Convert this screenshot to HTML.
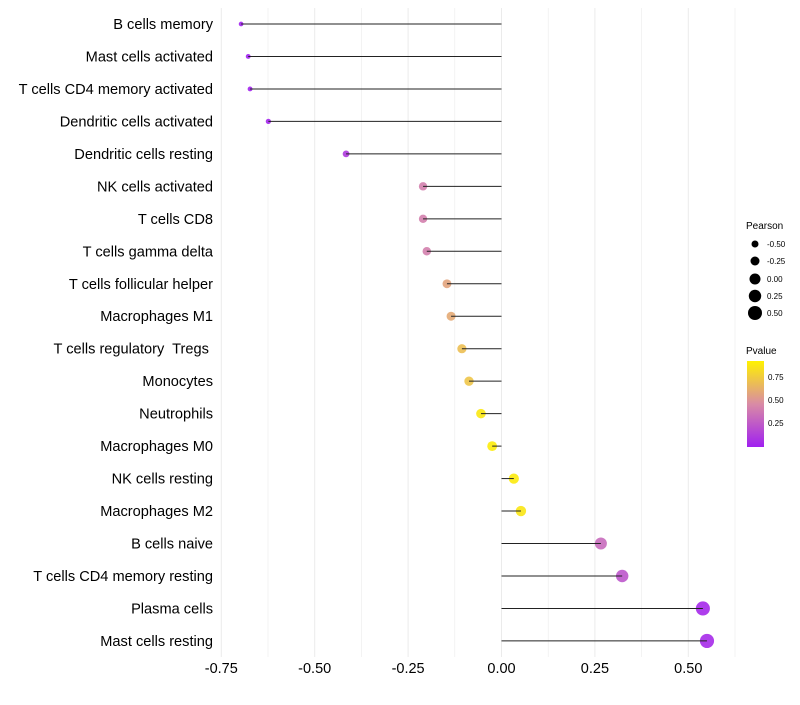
<!DOCTYPE html>
<html><head><meta charset="utf-8"><style>
body{margin:0;background:#fff;font-family:"Liberation Sans",sans-serif;}
svg text{font-family:"Liberation Sans",sans-serif;white-space:pre;}
</style></head><body>
<svg id="chart" width="800" height="700">
<defs><linearGradient id="pg" x1="0" y1="1" x2="0" y2="0">
<stop offset="0" stop-color="#A020F0"/><stop offset="0.5" stop-color="#D98BA5"/><stop offset="1" stop-color="#FFF200"/>
</linearGradient></defs>
<g id="grid"></g><g id="points"></g><g id="marks"></g><g id="labels"></g>
<g>
<text x="746" y="229" font-size="10">Pearson</text>
<circle cx="755" cy="244" r="3.5" fill="#000"/><text x="767" y="247" font-size="8">-0.50</text>
<circle cx="755" cy="261" r="4.5" fill="#000"/><text x="767" y="264" font-size="8">-0.25</text>
<circle cx="755" cy="279" r="5.5" fill="#000"/><text x="767" y="282" font-size="8">0.00</text>
<circle cx="755" cy="296" r="6.2" fill="#000"/><text x="767" y="299" font-size="8">0.25</text>
<circle cx="755" cy="313" r="7" fill="#000"/><text x="767" y="316" font-size="8">0.50</text>
</g>
<g>
<text x="746" y="354" font-size="10">Pvalue</text>
<rect x="747" y="361" width="17" height="86" fill="url(#pg)"/>
<text x="768" y="380" font-size="8">0.75</text>
<text x="768" y="403" font-size="8">0.50</text>
<text x="768" y="426" font-size="8">0.25</text>
</g>
</svg>
<script>
const categories=["B cells memory","Mast cells activated","T cells CD4 memory activated","Dendritic cells activated","Dendritic cells resting","NK cells activated","T cells CD8","T cells gamma delta","T cells follicular helper","Macrophages M1","T cells regulatory  Tregs ","Monocytes","Neutrophils","Macrophages M0","NK cells resting","Macrophages M2","B cells naive","T cells CD4 memory resting","Plasma cells","Mast cells resting"];
const pearson=[-0.697,-0.678,-0.673,-0.624,-0.416,-0.21,-0.21,-0.20,-0.146,-0.135,-0.106,-0.087,-0.055,-0.025,0.033,0.052,0.266,0.323,0.539,0.55];
const pvalue=[0.01,0.01,0.02,0.03,0.12,0.45,0.45,0.45,0.62,0.65,0.75,0.78,0.95,0.97,0.96,0.94,0.35,0.25,0.04,0.05];
const xTicks=[-0.75,-0.5,-0.25,0,0.25,0.5];
const xTickLabels=["-0.75","-0.50","-0.25","0.00","0.25","0.50"];
const NS="http://www.w3.org/2000/svg";
const xs=v=>501.5+v*373.6;
const ys=i=>24+i*32.47;
const rs=v=>5.0+3.8*v;
function mix(a,b,t){return a.map((c,k)=>Math.round(c+(b[k]-c)*t));}
function col(p){const P=[160,32,240],M=[217,139,165],Y=[255,242,0];const c=p<0.5?mix(P,M,p/0.5):mix(M,Y,(p-0.5)/0.5);return `rgb(${c})`;}
function mk(t,a,parent){const e=document.createElementNS(NS,t);for(const k in a)e.setAttribute(k,a[k]);document.getElementById(parent).appendChild(e);return e;}
for(let v=-0.75;v<=0.626;v+=0.125){
 const g=mk('line',{x1:xs(v),x2:xs(v),y1:8,y2:657,stroke:'#ebebeb','stroke-width':Math.abs((v*4)%1)<0.01?1:0.6},'grid');
 
 
}
xTicks.forEach((v,i)=>{
 const t=mk('text',{x:xs(v),y:673,'font-size':14.5,'text-anchor':'middle',fill:'#000'},'labels');t.textContent=xTickLabels[i];
 
 
});
categories.forEach((c,i)=>{
 const y=ys(i);
 const t=mk('text',{x:213,y:y+5,'font-size':14.6,'text-anchor':'end',fill:'#000'},'labels');t.textContent=c;
 
 
 const p=mk('circle',{cx:xs(pearson[i]),cy:y,r:rs(pearson[i]),fill:col(pvalue[i]),'fill-opacity':0.9},'points');
 
 
 const l=mk('line',{x1:xs(0),x2:xs(pearson[i]),y1:y,y2:y,stroke:'#222','stroke-width':1},'marks');
 
 
});
</script>
</body></html>
